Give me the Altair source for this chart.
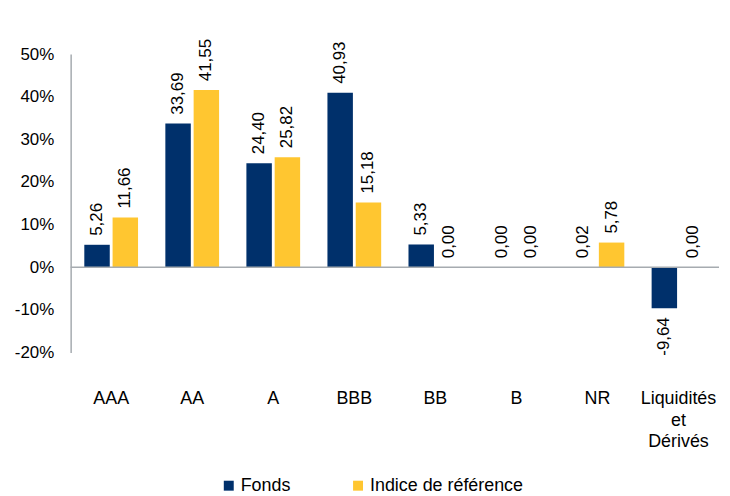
import altair as alt
import pandas as pd

categories = ["AAA", "AA", "A", "BBB", "BB", "B", "NR", "Liquidités et Dérivés"]
series = ["Fonds", "Indice de référence"]
fonds = [5.26, 33.69, 24.40, 40.93, 5.33, 0.00, 0.02, -9.64]
indice = [11.66, 41.55, 25.82, 15.18, 0.00, 0.00, 5.78, 0.00]
y_ticks = [-20, -10, 0, 10, 20, 30, 40, 50]
colors = ["#00306B", "#FFC630"]

rows = []
for c, f, i in zip(categories, fonds, indice):
    rows.append({"cat": c, "series": series[0], "value": f, "label": f"{f:.2f}".replace(".", ",")})
    rows.append({"cat": c, "series": series[1], "value": i, "label": f"{i:.2f}".replace(".", ",")})
df = pd.DataFrame(rows)

FONT = "Liberation Sans"
GRAY = "#A6ABB0"

x_enc = alt.X(
    "cat:N", sort=categories,
    scale=alt.Scale(paddingInner=0.337, paddingOuter=0.1685),
    axis=alt.Axis(
        title=None, domain=False, ticks=False, tickSize=0, labelAngle=0,
        labelPadding=37, labelFontSize=18, labelFont=FONT, labelColor="#000000",
        labelLineHeight=22,
        labelExpr="datum.label == 'Liquidités et Dérivés' ? ['Liquidités', 'et', 'Dérivés'] : datum.label",
    ),
)
xo_enc = alt.XOffset("series:N", sort=series, scale=alt.Scale(paddingInner=0.1, paddingOuter=0))
y_enc = alt.Y(
    "value:Q",
    scale=alt.Scale(domain=[-20, 50], nice=False, zero=False),
    axis=alt.Axis(
        title=None, values=y_ticks, labelExpr="datum.value + '%'", grid=False,
        ticks=False, tickSize=0, labelPadding=17, domainColor=GRAY, domainWidth=1.5,
        labelFontSize=17, labelFont=FONT, labelColor="#000000",
    ),
)

base = alt.Chart(df).encode(x=x_enc, xOffset=xo_enc, y=y_enc)

bars = base.mark_bar().encode(
    color=alt.Color(
        "series:N", sort=series,
        scale=alt.Scale(domain=series, range=colors),
        legend=alt.Legend(
            title=None, orient="none", legendX=150, legendY=425, padding=0,
            direction="horizontal", symbolType="square",
            symbolSize=100, symbolStrokeWidth=0, labelFontSize=18, labelFont=FONT,
            labelColor="#000000", columnPadding=58, labelOffset=3,
        ),
    )
)

zero = alt.Chart(pd.DataFrame({"z": [0]})).mark_rule(color=GRAY, strokeWidth=1.5).encode(y="z:Q")

pos_text = base.transform_filter("datum.value >= 0").mark_text(
    angle=270, align="left", baseline="middle", dx=9, fontSize=17, font=FONT, color="#000000"
).encode(text="label:N")

neg_text = base.transform_filter("datum.value < 0").mark_text(
    angle=270, align="right", baseline="middle", dx=-9, fontSize=17, font=FONT, color="#000000"
).encode(text="label:N")

chart = alt.layer(bars, zero, pos_text, neg_text).properties(
    width=652, height=300,
    padding={"top": 29, "left": 6, "right": 2, "bottom": 0},
).configure_view(stroke=None).configure_legend(labelFont=FONT)

chart.save("out.html", embed_options={"renderer": "svg", "actions": False})
